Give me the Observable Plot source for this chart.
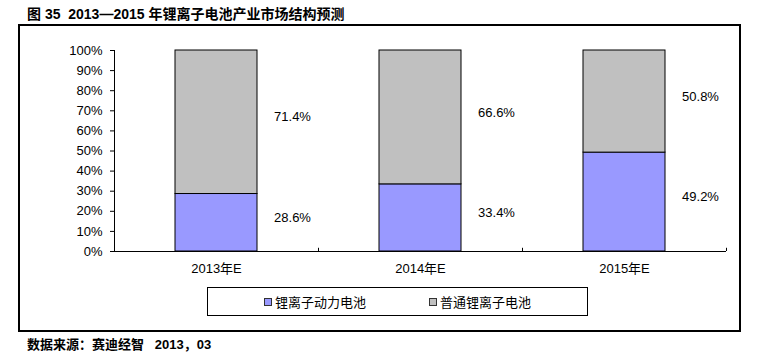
<!DOCTYPE html>
<html>
<head>
<meta charset="utf-8">
<script src="https://cdn.jsdelivr.net/npm/d3@7"></script>
<script src="https://cdn.jsdelivr.net/npm/@observablehq/plot@0.6"></script>
<style>
  body { margin: 0; background: #fff; }
  #c { position: relative; width: 757px; height: 361px; background: #fff;
       font-family: "Liberation Sans", Arial, "Noto Sans CJK SC", sans-serif; color: #000; }
  .abs { position: absolute; }
  #title { left: 27px; top: 3px; font-size: 14px; font-weight: bold; white-space: nowrap; }
  #frame { left: 18px; top: 24px; width: 723px; height: 308px; box-sizing: border-box; border: 2.5px solid #000; }
  #plot { left: 0; top: 0; }
  #legend { left: 207px; top: 287px; width: 381px; height: 29px; box-sizing: border-box; border: 1px solid #000;
            display: flex; align-items: center; justify-content: center; gap: 63px; font-size: 13px; }
  .item { display: flex; align-items: center; gap: 3px; }
  .sw { width: 6px; height: 6px; border: 1px solid #333; }
  #caption { left: 27px; top: 334px; font-size: 13px; font-weight: bold; white-space: pre; }
</style>
</head>
<body>
<div id="c">
  <div id="title" class="abs">图 35&nbsp; 2013—2015 年锂离子电池产业市场结构预测</div>
  <div id="frame" class="abs"></div>
  <div id="plot" class="abs"></div>
  <div id="legend" class="abs"></div>
  <div id="caption" class="abs">数据来源：赛迪经智   2013，03</div>
</div>
<script>
const years = ["2013年E", "2014年E", "2015年E"];
const powerShare = [28.6, 33.4, 49.2];
const commonShare = [71.4, 66.6, 50.8];
const seriesNames = ["锂离子动力电池", "普通锂离子电池"];
const seriesColors = ["#9999FF", "#C0C0C0"];
const yTicks = [0, 10, 20, 30, 40, 50, 60, 70, 80, 90, 100];

const rows = [];
years.forEach((year, i) => {
  rows.push({year, series: seriesNames[0], value: powerShare[i], y1: 0, y2: powerShare[i]});
  rows.push({year, series: seriesNames[1], value: commonShare[i], y1: powerShare[i], y2: powerShare[i] + commonShare[i]});
});

const W = 757, H = 361, ML = 114, MR = 31, MT = 50, MB = 110;
const halfStep = (W - ML - MR) / years.length / 2;

const chart = Plot.plot({
  width: W, height: H,
  marginLeft: ML, marginRight: MR, marginTop: MT, marginBottom: MB,
  style: {fontFamily: '"Liberation Sans", Arial, "Noto Sans CJK SC", sans-serif', fontSize: "13px", background: "transparent", color: "#000"},
  x: {type: "band", domain: years, paddingInner: 0.6, paddingOuter: 0.3},
  y: {domain: [0, 100]},
  color: {domain: seriesNames, range: seriesColors},
  marks: [
    Plot.barY(rows, {x: "year", y1: "y1", y2: "y2", fill: "series", stroke: "#000", strokeWidth: 1}),
    Plot.text(rows, {x: "year", y: d => (d.y1 + d.y2) / 2, text: d => d.value.toFixed(1) + "%", dx: 76, dy: -5, fontSize: 13, fill: "#000"}),
    Plot.ruleY([0], {stroke: "#000"}),
    Plot.ruleX([years[0]], {x: d => d, y1: 0, y2: 100, dx: -halfStep, stroke: "#000"}),
    Plot.ruleX(years, {x: d => d, y1: 0, y2: 1.6, dx: halfStep, stroke: "#000"}),
    Plot.axisY({ticks: yTicks, tickSize: 4, tickPadding: 8, tickFormat: d => d + "%", label: null, fontSize: 13}),
    Plot.axisX({tickSize: 0, tickPadding: 12, label: null, fontSize: 13})
  ]
});
document.getElementById("plot").appendChild(chart);

const legend = document.getElementById("legend");
seriesNames.forEach((name, i) => {
  const item = document.createElement("div");
  item.className = "item";
  const sw = document.createElement("div");
  sw.className = "sw";
  sw.style.background = seriesColors[i];
  const t = document.createElement("span");
  t.textContent = name;
  item.appendChild(sw);
  item.appendChild(t);
  legend.appendChild(item);
});
</script>
</body>
</html>
